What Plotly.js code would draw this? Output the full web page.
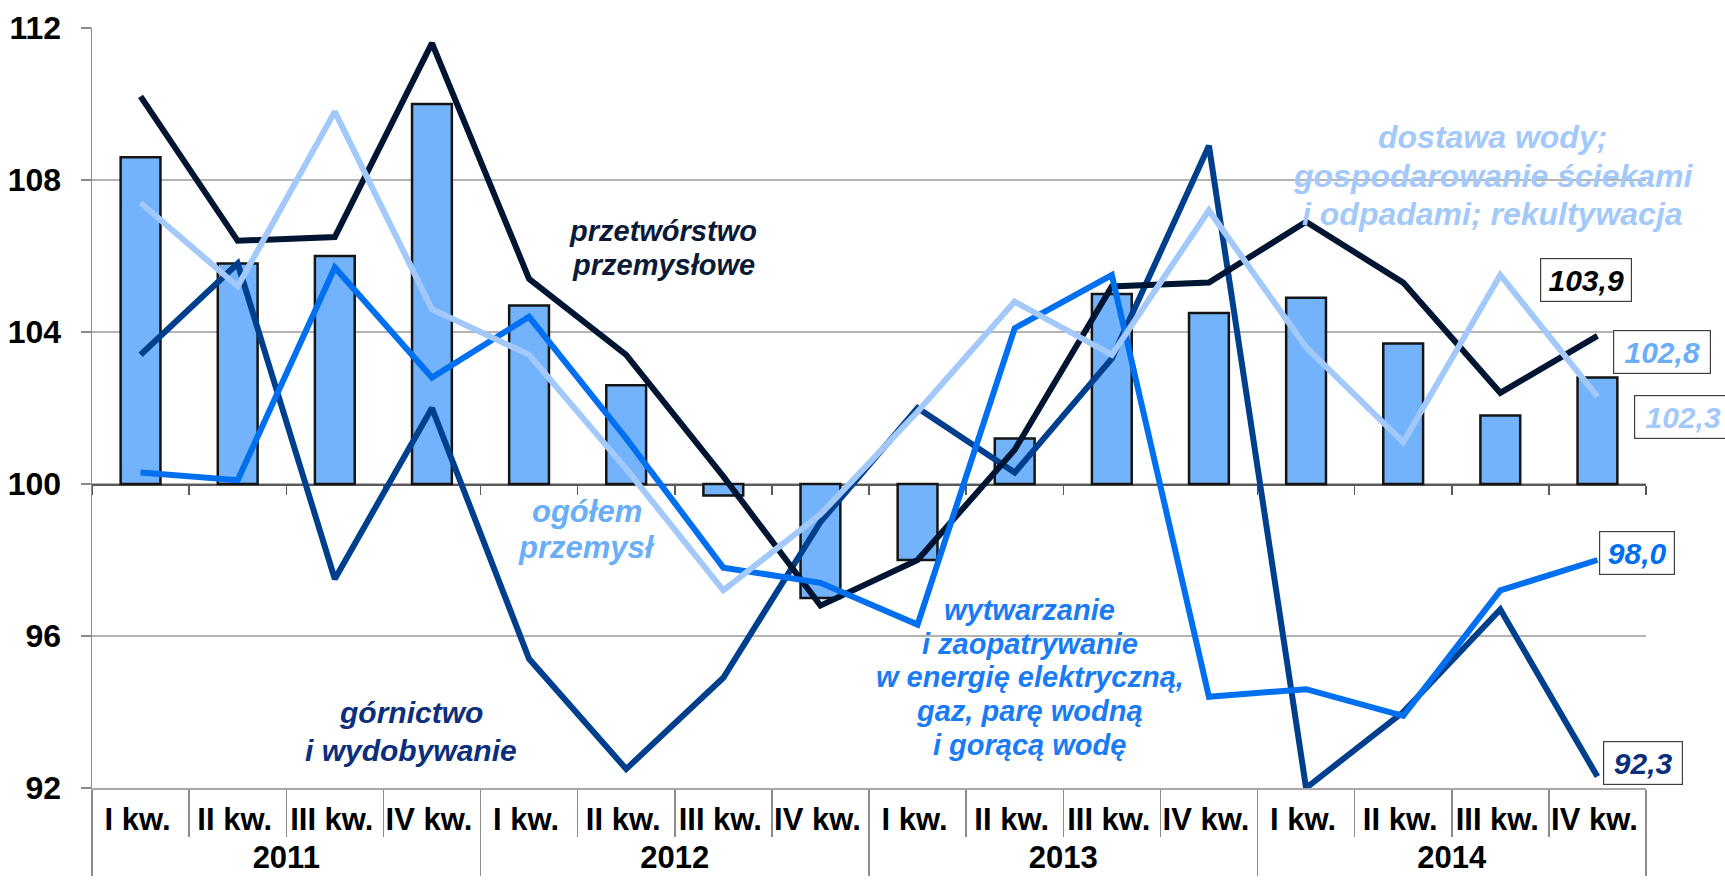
<!DOCTYPE html>
<html>
<head>
<meta charset="utf-8">
<script src="https://cdn.plot.ly/plotly-3.0.1.min.js"></script>
<style>
  html, body { margin: 0; padding: 0; background: #ffffff; }
  #chart { width: 1725px; height: 881px; }
</style>
</head>
<body>
<div id="chart"></div>
<script>
// ---- data ----
const years = ['2011', '2012', '2013', '2014'];
const quarters = ['I kw.', 'II kw.', 'III kw.', 'IV kw.'];

// ogółem przemysł (bars)
const ogolem = [108.6, 105.8, 106.0, 110.0, 104.7, 102.6, 99.7, 97.0, 98.0, 101.2, 105.0, 104.5, 104.9, 103.7, 101.8, 102.8];
// przetwórstwo przemysłowe
const przetworstwo = [110.2, 106.4, 106.5, 111.6, 105.4, 103.4, 100.2, 96.8, 98.0, 100.9, 105.2, 105.3, 106.9, 105.3, 102.4, 103.9];
// górnictwo i wydobywanie
const gornictwo = [103.4, 105.8, 97.5, 102.0, 95.4, 92.5, 94.9, 99.0, 102.0, 100.3, 103.3, 108.9, 92.0, 94.0, 96.7, 92.3];
// wytwarzanie i zaopatrywanie w energię ...
const wytwarzanie = [100.3, 100.1, 105.7, 102.8, 104.4, 101.2, 97.8, 97.4, 96.3, 104.1, 105.5, 94.4, 94.6, 93.9, 97.2, 98.0];
// dostawa wody; gospodarowanie ściekami ...
const dostawa = [107.4, 105.2, 109.8, 104.6, 103.4, 100.4, 97.2, 99.2, 101.9, 104.8, 103.4, 107.2, 103.6, 101.1, 105.5, 102.3];

// series label texts
const labelPrz = ['przetwórstwo', 'przemysłowe'];
const labelOgo = ['ogółem', 'przemysł'];
const labelGor = ['górnictwo', 'i wydobywanie'];
const labelWyt = ['wytwarzanie', 'i zaopatrywanie', 'w energię elektryczną,', 'gaz, parę wodną', 'i gorącą wodę'];
const labelDos = ['dostawa wody;', 'gospodarowanie ściekami', 'i odpadami; rekultywacja'];

const baseValue = 100;
const yTicks = [92, 96, 100, 104, 108, 112];

// ---- build category arrays ----
// (an invisible subscript space after each quarter label only deepens the first label row)
const SPACER = '<sub>\u00a0</sub>';
const outer = [], inner = [], ids = [];
years.forEach(y => quarters.forEach(q => { outer.push(y); inner.push(q + SPACER); ids.push(y + ' ' + q); }));

const FONT = '"Liberation Sans", Arial, sans-serif';
const C_PRZ = '#001532';
const C_GOR = '#003f8e';
const C_WYT = '#006ff0';
const C_DOS = '#a3c9fb';
const C_OGO = '#72b3fc';

const bars = {
  type: 'bar', x: [outer, inner], y: ogolem.map(v => v - baseValue), base: baseValue,
  width: 0.41,
  marker: { color: C_OGO, line: { color: '#151515', width: 2.5 } },
  hoverinfo: 'skip', showlegend: false
};
function line(vals, color) {
  return {
    type: 'scatter', mode: 'lines', x: ids, y: vals, xaxis: 'x2', yaxis: 'y',
    line: { color: color, width: 6 }, hoverinfo: 'skip', showlegend: false, cliponaxis: false
  };
}
const traces = [bars, line(gornictwo, C_GOR), line(przetworstwo, C_PRZ), line(wytwarzanie, C_WYT), line(dostawa, C_DOS)];

const last = ids[ids.length - 1];
// one annotation per text line, so that the line spacing can be set
function seriesLabel(lines, x, y, color, size, spacing) {
  const n = lines.length;
  return lines.map((t, i) => ({
    xref: 'paper', yref: 'paper', x: x, y: y, text: t, showarrow: false,
    yshift: ((n - 1) / 2 - i) * spacing,
    xanchor: 'center', yanchor: 'middle', align: 'center',
    font: { family: FONT, size: size, color: color, weight: 'bold', style: 'italic' }
  }));
}
function valueBox(val, color, xs, ys, w) {
  return { xref: 'x2', yref: 'y', x: last, y: val, text: val.toFixed(1).replace('.', ','),
    showarrow: false, xshift: xs, yshift: ys, xanchor: 'center', yanchor: 'middle',
    bgcolor: '#ffffff', bordercolor: '#404040', borderwidth: 1.2, borderpad: 3, width: w, height: 36,
    font: { family: FONT, size: 30, color: color, weight: 'bold', style: 'italic' } };
}

const annotations = [].concat(
  seriesLabel(labelPrz, 0.3675, 0.7105, '#0b1a36', 29, 34),
  seriesLabel(labelOgo, 0.3185, 0.3395, '#6aaef8', 31, 36),
  seriesLabel(labelGor, 0.2054, 0.0737, '#0c2f7c', 30, 38),
  seriesLabel(labelWyt, 0.6036, 0.1454, '#1a7cf4', 29, 33.8),
  seriesLabel(labelDos, 0.9015, 0.8059, C_DOS, 32, 38.5),
  [
    valueBox(przetworstwo[15], '#000000', -11, 56, 84),
    valueBox(ogolem[15], '#6aaef8', 65, 26, 90),
    valueBox(dostawa[15], C_DOS, 86, -20, 90),
    valueBox(wytwarzanie[15], C_WYT, 40, 7, 68),
    valueBox(gornictwo[15], '#0c2f7c', 46, 14, 72)
  ]
);

const layout = {
  width: 1725, height: 881,
  margin: { l: 92, r: 79, t: 28, b: 93 },
  paper_bgcolor: '#ffffff', plot_bgcolor: '#ffffff',
  font: { family: FONT, color: '#000000' },
  showlegend: false,
  bargap: 0,
  xaxis: {
    type: 'multicategory', range: [-0.5, 15.5], fixedrange: true, tickangle: 0,
    ticks: 'outside', tickson: 'boundaries', ticklen: 47, tickcolor: '#8c8c8c', tickwidth: 1.5,
    showdividers: true, dividercolor: '#8c8c8c', dividerwidth: 1.5, ticklabelstandoff: 3,
    showline: true, linecolor: '#a8a8a8', linewidth: 1.5, showgrid: false,
    tickfont: { family: FONT, size: 31, color: '#000000', weight: 'bold' }
  },
  xaxis2: {
    type: 'category', overlaying: 'x', anchor: 'free', position: (baseValue - 92) / (112 - 92),
    range: [-0.5, 15.5], fixedrange: true, categoryorder: 'array', categoryarray: ids,
    showline: true, linecolor: '#5a5a5a', linewidth: 1.8, ticks: 'outside', tickson: 'boundaries',
    ticklen: 9, tickcolor: '#5a5a5a', tickwidth: 1.5, showticklabels: false, showgrid: false,
    layer: 'below traces'
  },
  yaxis: {
    range: [92, 112], tickvals: yTicks, fixedrange: true,
    showgrid: true, gridcolor: '#b4b4b4', gridwidth: 1.5, zeroline: false,
    ticks: 'outside', ticklen: 10, tickcolor: '#8c8c8c', tickwidth: 1.5,
    showline: true, linecolor: '#8c8c8c', linewidth: 1.5, ticklabelstandoff: 13,
    tickfont: { family: FONT, size: 32, color: '#000000', weight: 'bold' }
  },
  annotations: annotations
};

Plotly.newPlot('chart', traces, layout, { staticPlot: true, displayModeBar: false });
</script>
</body>
</html>
